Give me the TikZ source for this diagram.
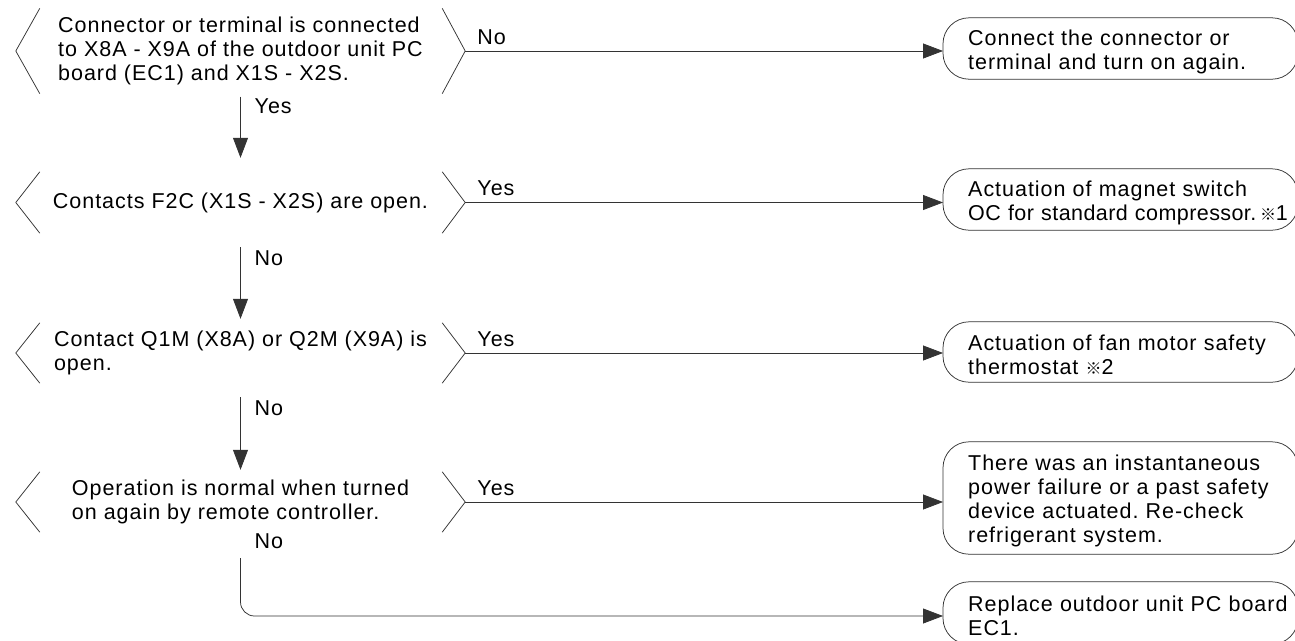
\documentclass[tikz,border=0pt]{standalone}
\usepackage{fontspec}
\setmainfont{Liberation Sans}[LetterSpace=4.5]
\newfontfamily\refmark{Noto Sans CJK JP}
\newcommand{\rmk}{{\refmark\fontsize{16}{24}\selectfont ※}}
\usetikzlibrary{arrows.meta}
\hfuzz=80pt
\frenchspacing
\begin{document}
\begin{tikzpicture}[x=1pt,y=-1pt,
  every node/.style={font=\fontsize{21.5}{24}\selectfont\frenchspacing, text=black},
  line/.style={draw=black!80, line width=0.75pt},
  arr/.style={line, -{Triangle[length=20pt,width=15pt]}},
  dec/.style={minimum width=449pt, inner sep=0pt, align=left},
  res/.style={text width=360pt, inner xsep=25pt, inner ysep=0pt, align=left, anchor=west},
  lbl/.style={anchor=base west, inner sep=0pt}]
\useasboundingbox (0,0) rectangle (1295,640);
\clip (0,0) rectangle (1295,640);
\coordinate (xr) at (1298,0);

% decisions
\node[dec, minimum height=85pt] (d1) at (240.5,51)
  {Connector or terminal is connected\\to X8A - X9A of the outdoor unit PC\\board (EC1) and X1S - X2S.};
\node[dec, minimum height=61pt] (d2) at (240.5,202.5)
  {Contacts F2C (X1S - X2S) are open.};
\node[dec, minimum height=60pt] (d3) at (240.5,353)
  {Contact Q1M (X8A) or Q2M (X9A) is\\open.};
\node[dec, minimum height=60pt] (d4) at (240.5,502)
  {Operation is normal when turned\\on again by remote controller.};

\foreach \n in {d1,d2,d3,d4}{
  \draw[line] ([xshift=24pt]\n.north west) -- (\n.west) -- ([xshift=24pt]\n.south west);
  \draw[line] ([xshift=-23pt]\n.north east) -- (\n.east) -- ([xshift=-23pt]\n.south east);
}

% results
\node[res, minimum height=61pt] (r1) at (943,51.5)
  {Connect the connector or\\terminal and turn on again.};
\node[res, minimum height=61pt] (r2) at (943,202.5)
  {Actuation of magnet switch\\\mbox{\addfontfeature{LetterSpace=2}OC for standard compressor.\,\rmk1}};
\node[res, minimum height=60pt] (r3) at (943,355)
  {Actuation of fan motor safety\\thermostat \rmk2};
\node[res, minimum height=112pt] (r4) at (943,501)
  {There was an instantaneous\\power failure or a past safety\\device actuated. Re-check\\refrigerant system.};
\node[res, minimum height=62pt] (r5) at (943,616)
  {Replace outdoor unit PC board\\EC1.};

\foreach \n in {r1,r2,r3,r4,r5}{
  \draw[line, rounded corners=26pt] ([yshift=3pt]\n.north west) rectangle ([yshift=3pt]\n.south west -| xr);
}

% horizontal connectors
\draw[arr] (d1.east) -- (d1.east -| r1.west);
\draw[arr] (d2.east) -- (d2.east -| r2.west);
\draw[arr] (d3.east) -- (d3.east -| r3.west);
\draw[arr] (d4.east) -- (d4.east -| r4.west);
\node[lbl] (h1) at ([xshift=12pt,yshift=7pt]d1.east) {No};
\node[lbl] (h2) at ([xshift=12pt,yshift=7pt]d2.east) {Yes};
\node[lbl] (h3) at ([xshift=12pt,yshift=7pt]d3.east) {Yes};
\node[lbl] (h4) at ([xshift=12pt,yshift=7pt]d4.east) {Yes};

% vertical connectors
\draw[arr, shorten <=3pt, shorten >=14pt] (d1.south) -- (d2.north);
\draw[arr, shorten <=14pt, shorten >=4pt] (d2.south) -- (d3.north);
\draw[arr, shorten <=14pt, shorten >=2pt] (d3.south) -- (d4.north);
\node[lbl] (v1) at ([xshift=14pt,yshift=-20pt]d1.south) {Yes};
\node[lbl] (v2) at ([xshift=14pt,yshift=-32pt]d2.south) {No};
\node[lbl] (v3) at ([xshift=14pt,yshift=-32pt]d3.south) {No};
\node[lbl] (v4) at ([xshift=14pt,yshift=-16pt]d4.south) {No};

\coordinate (s5) at ([yshift=-26pt]d4.south);
\draw[arr, rounded corners=14pt] (s5) -- (s5 |- r5.west) -- (r5.west);
\end{tikzpicture}
\end{document}
